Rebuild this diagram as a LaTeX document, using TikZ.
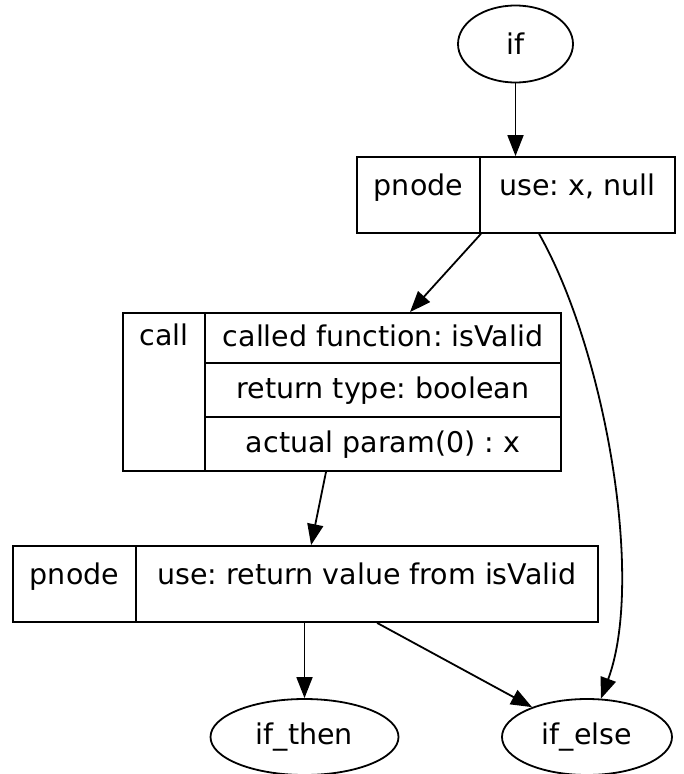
\documentclass[tikz,border=0pt]{standalone}
\usepackage{fontspec}
\setmainfont{DejaVu Sans}
\usepackage{tikz}
\usetikzlibrary{calc, arrows.meta, positioning, shapes.geometric}
\frenchspacing

\begin{document}
\begin{tikzpicture}[x=1pt, y=-1pt, line width=1.8pt,
    font=\fontsize{28.5}{34}\selectfont,
    state/.style={ellipse, draw, inner sep=0pt},
    cell/.style={rectangle, draw, inner sep=0pt, text height=22pt, text depth=6pt},
    toprow/.style={text depth=22pt},
    edge/.style={-{Triangle[length=21pt, width=16pt]}}]
  \useasboundingbox (0,0) rectangle (683,774);
  % entry
  \node[state, minimum width=115pt, minimum height=77pt] (if) at (515.5,44) {if};
  % first pnode record
  \node[cell, toprow, minimum width=123pt, minimum height=76pt] (p1l) at (418.5,195) {pnode};
  \node[cell, toprow, minimum width=195pt, minimum height=76pt] (p1r) at (577.5,195) {use: x, null};
  % call record
  \node[cell, text depth=116pt, minimum width=82pt, minimum height=158pt] (call) at (164,392) {call};
  \node[cell, minimum width=356pt, minimum height=50pt] (fn) at (383,338) {called function: isValid};
  \node[cell, minimum width=356pt, minimum height=54pt] (ret) at (383,390) {return type: boolean};
  \node[cell, minimum width=356pt, minimum height=54pt] (arg) at (383,444) {actual param(0) : x};
  % second pnode record
  \node[cell, toprow, minimum width=123pt, minimum height=76pt] (p2l) at (74.5,584) {pnode};
  \node[cell, toprow, minimum width=462pt, minimum height=76pt] (p2r) at (367,584) {use: return value from isValid};
  % branches
  \node[state, minimum width=188pt, minimum height=76pt] (then) at (304.5,737) {if\_then};
  \node[state, minimum width=170pt, minimum height=76pt] (else) at (587,737) {if\_else};
  % edges
  \draw[edge] (if) -- (if.south |- p1r.north);
  \draw[edge] (p1l.south east) -- ($(fn.north)+(27,0)$);
  \draw[edge] ($(p1r.south west)+(60,0)$) .. controls (605,350) and (645,580) .. (else.70);
  \draw[edge] ($(arg.south)+(-57,0)$) -- ($(p2r.north west)+(176,0)$);
  \draw[edge] (then.north |- p2r.south) -- (then);
  \draw[edge] ($(p2r.south west)+(242,0)$) -- (else);
\end{tikzpicture}
\end{document}
